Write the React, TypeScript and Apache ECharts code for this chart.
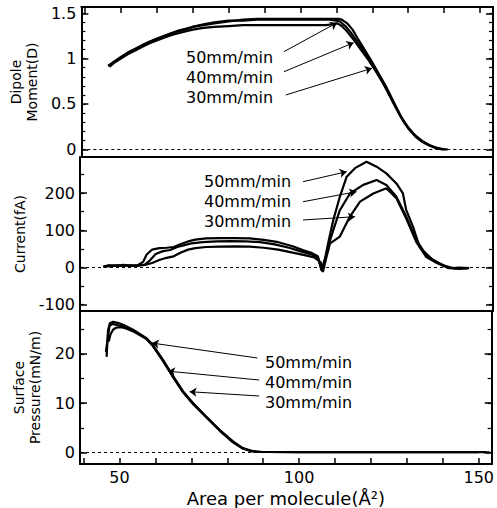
import React, { useEffect, useRef } from "react";
import * as echarts from "echarts";

// ---------- axis ticks / labels ----------
const xTickValues = [40, 50, 60, 70, 80, 90, 100, 110, 120, 130, 140, 150];
const xLabelValues = [50, 100, 150];

const dipoleMajor = [0, 0.5, 1, 1.5];
const dipoleMinor = [0, 0.1, 0.2, 0.3, 0.4, 0.5, 0.6, 0.7, 0.8, 0.9, 1, 1.1, 1.2, 1.3, 1.4, 1.5];
const currentMajor = [-100, 0, 100, 200];
const currentMinor = [-100, -50, 0, 50, 100, 150, 200, 250];
const pressureMajor = [0, 10, 20];
const pressureMinor = [0, 5, 10, 15, 20, 25];

const speeds = ["50mm/min", "40mm/min", "30mm/min"];

// ---------- data: dipole moment (D) ----------
const dipole50: [number, number][] = [
  [46.4, 0.92], [48, 0.96], [50, 1.01], [52, 1.06], [54, 1.1], [56, 1.14], [58, 1.18], [60, 1.22],
  [62, 1.25], [64, 1.28], [66, 1.3], [68, 1.32], [70, 1.35], [73, 1.37], [76, 1.39], [80, 1.41],
  [84, 1.43], [88, 1.44], [92, 1.44], [96, 1.44], [100, 1.44], [104, 1.44], [108, 1.44], [110.5, 1.44],
  [111.5, 1.43], [113, 1.39], [114.5, 1.32], [116, 1.22], [118, 1.09], [120, 0.96], [122, 0.82],
  [124, 0.68], [126, 0.52], [128, 0.36], [130, 0.24], [132, 0.15], [134, 0.09], [136, 0.045],
  [138, 0.015], [140, 0], [141, 0],
];
const dipole40: [number, number][] = [
  [46.6, 0.92], [48, 0.965], [50, 1.02], [52, 1.07], [54, 1.11], [56, 1.15], [58, 1.19], [60, 1.22],
  [62, 1.25], [64, 1.28], [66, 1.31], [68, 1.33], [70, 1.35], [73, 1.38], [76, 1.4], [80, 1.42],
  [84, 1.42], [88, 1.43], [92, 1.43], [96, 1.43], [100, 1.43], [104, 1.43], [108, 1.43], [110, 1.42],
  [111, 1.41], [112.5, 1.36], [114, 1.29], [116, 1.18], [118, 1.06], [120, 0.94], [122, 0.8],
  [124, 0.66], [126, 0.5], [128, 0.35], [130, 0.23], [132, 0.14], [134, 0.08], [136, 0.04],
  [138, 0.01], [139.5, 0],
];
const dipole30: [number, number][] = [
  [46.8, 0.91], [48, 0.95], [50, 1.0], [52, 1.05], [54, 1.09], [56, 1.13], [58, 1.17], [60, 1.2],
  [62, 1.23], [64, 1.26], [66, 1.28], [68, 1.3], [70, 1.32], [73, 1.34], [76, 1.35], [80, 1.36],
  [84, 1.37], [88, 1.37], [92, 1.37], [96, 1.37], [100, 1.37], [104, 1.37], [107, 1.37], [109, 1.38],
  [110.3, 1.39], [111.5, 1.36], [113, 1.3], [115, 1.2], [117, 1.09], [119, 0.98], [121, 0.86],
  [123, 0.73], [125, 0.58], [127, 0.43], [129, 0.29], [131, 0.19], [133, 0.11], [135, 0.06],
  [137, 0.025], [139, 0.005], [140, 0],
];

// ---------- data: current (fA) ----------
const current50: [number, number][] = [
  [45.4, 2], [47, 6], [49, 4], [51, 7], [53, 5], [55, 6], [56.5, 15], [57.5, 35], [59, 48], [61, 52],
  [63, 53], [65, 55], [67, 63], [69, 70], [71, 75], [74, 78], [78, 79], [82, 79], [86, 78], [90, 74],
  [94, 68], [98, 57], [101, 46], [103, 40], [105, 30], [106, -8], [107, 25], [108, 72], [109.3, 128],
  [111.1, 190], [113, 244], [115.3, 267], [118.5, 284], [121.3, 271], [124, 253], [126.8, 226],
  [128.6, 199], [129.5, 155], [131.4, 110], [133.2, 56], [136, 25], [138.8, 11], [141.5, -2],
  [144, 0], [147, -2],
];
const current40: [number, number][] = [
  [45.6, 3], [47, 5], [49, 6], [51, 4], [53, 6], [55, 5], [57, 8], [58.5, 20], [60, 36], [62, 44],
  [64, 47], [66, 55], [68, 60], [70, 65], [73, 68], [77, 70], [81, 71], [85, 70], [89, 68], [93, 62],
  [97, 53], [100, 44], [103, 36], [105, 27], [106.2, -10], [107.2, 30], [108.3, 70], [109.3, 101],
  [111.1, 154], [113.9, 199], [117.6, 222], [121.3, 235], [124, 222], [126.8, 190], [129.5, 137],
  [132.3, 74], [134.5, 42], [137, 20], [140, 5], [143, -3], [146.5, -3],
];
const current30: [number, number][] = [
  [45.8, 4], [47, 3], [49, 5], [51, 6], [53, 4], [55, 5], [57, 7], [59, 12], [61, 20], [63, 26],
  [65, 30], [67, 40], [69, 48], [71, 52], [74, 55], [78, 56], [82, 57], [86, 56], [90, 53], [94, 48],
  [98, 40], [101, 34], [104, 27], [105.8, 14], [106.4, -12], [107.4, 28], [108.4, 65], [111.1, 83],
  [113.9, 137], [116.7, 177], [120.4, 199], [124, 213], [126.8, 186], [129.5, 132], [132.3, 69],
  [135, 29], [138, 12], [141, -1], [145, -4],
];

// ---------- data: surface pressure (mN/m) ----------
const pressure50: [number, number][] = [
  [46.4, 19.4], [46.8, 24.8], [47.3, 26.2], [48.2, 26.5], [49.5, 26.3], [51, 25.9], [53.8, 24.9],
  [57.5, 23.2], [59.3, 21.8], [62.1, 18.8], [64.9, 15.4], [67.7, 12.3], [70.4, 10.0], [74.1, 7.3],
  [77.8, 4.6], [81.5, 2.2], [84.3, 0.85], [86.2, 0.4], [88, 0.15], [92, 0.1], [100, 0.05],
  [110, 0.05], [120, 0.05], [130, 0.05], [140, 0.05], [153, 0.05],
];
const pressure40: [number, number][] = [
  [46.2, 20.4], [46.7, 23], [47.2, 25.6], [48, 26.1], [49.5, 25.8], [51, 25.6], [53.8, 24.7],
  [57.5, 23.0], [59.3, 21.7], [62.1, 18.7], [64.9, 15.5], [67.7, 12.4], [70.4, 10.1], [74.1, 7.2],
  [77.8, 4.5], [81.5, 2.1], [84.3, 0.8], [86.5, 0.3], [89, 0.1], [100, 0.1], [120, 0.1],
  [140, 0.1], [152, 0.1],
];
const pressure30: [number, number][] = [
  [47, 22.5], [47.5, 24], [48.2, 24.9], [49, 25.3], [50.5, 25.4], [52, 25.1], [54, 24.5],
  [57.5, 23.1], [59.3, 21.6], [62.1, 18.6], [64.9, 15.3], [67.7, 12.2], [70.4, 9.9], [74.1, 7.2],
  [77.8, 4.6], [81.5, 2.3], [84.3, 0.9], [87, 0.3], [90, 0.1], [100, 0.05], [120, 0.05],
  [140, 0.05], [150, 0.05],
];

// ---------- annotation arrows (data coordinates: from label -> to curve) ----------
const dipoleArrows: [number, number][][] = [
  [[95.4, 1.077], [110.2, 1.397]],
  [[95.4, 0.856], [114.8, 1.176]],
  [[95.9, 0.599], [119.9, 0.894]],
];
const currentArrows: [number, number][][] = [
  [[100.9, 230.6], [113.0, 257.5]],
  [[100.9, 176.8], [115.7, 203.7]],
  [[100.9, 127.7], [115.3, 136.5]],
];
const pressureArrows: [number, number][][] = [
  [[88.4, 19.17], [59.0, 22.2]],
  [[88.9, 14.7], [63.5, 16.5]],
  [[88.9, 11.46], [69.5, 12.33]],
];

// ---------- layout ----------
const FONT = "DejaVu Sans";
const X_MIN = 39;
const X_MAX = 153.6;
const GRIDS = [
  { left: 80, top: 7, width: 413, height: 150 },
  { left: 80, top: 157, width: 413, height: 154 },
  { left: 80, top: 311, width: 413, height: 153 },
];
const RANGES = [
  [-0.085, 1.57],
  [-117, 297],
  [-2.33, 28.7],
];
const LABEL_POS = [
  [[186, 57], [186, 77], [186, 97]],
  [[204, 181], [204, 201], [204, 221]],
  [[265, 362], [265, 382], [265, 402]],
];

const BLACK = "#000";

function yAxesFor(
  gridIndex: number,
  majors: number[],
  minors: number[],
  name: string,
  nameGap: number
) {
  const [min, max] = RANGES[gridIndex];
  const base = {
    type: "value",
    gridIndex,
    min,
    max,
    splitLine: { show: false },
  };
  return [
    {
      ...base,
      position: "left",
      axisLine: { show: true, onZero: false, lineStyle: { color: BLACK, width: 2 } },
      axisTick: { show: true, inside: true, length: 7, customValues: majors, lineStyle: { color: BLACK, width: 1.5 } },
      axisLabel: { show: true, customValues: majors, color: BLACK, fontSize: 16, fontFamily: FONT, margin: 5 },
      name,
      nameLocation: "middle",
      nameGap,
      nameTextStyle: { color: BLACK, fontSize: 14, fontFamily: FONT, lineHeight: 16 },
    },
    {
      ...base,
      position: "left",
      axisLine: { show: false, onZero: false },
      axisTick: { show: true, inside: true, length: 4, customValues: minors, lineStyle: { color: BLACK, width: 1.2 } },
      axisLabel: { show: false },
    },
    {
      ...base,
      position: "right",
      axisLine: { show: true, onZero: false, lineStyle: { color: BLACK, width: 2 } },
      axisTick: { show: true, inside: true, length: 7, customValues: majors, lineStyle: { color: BLACK, width: 1.5 } },
      axisLabel: { show: false },
    },
    {
      ...base,
      position: "right",
      axisLine: { show: false, onZero: false },
      axisTick: { show: true, inside: true, length: 4, customValues: minors, lineStyle: { color: BLACK, width: 1.2 } },
      axisLabel: { show: false },
    },
  ];
}

function xAxis(gridIndex: number, position: string, ticks: boolean, labels: boolean, extra: any = {}) {
  return {
    type: "value",
    gridIndex,
    min: X_MIN,
    max: X_MAX,
    position,
    splitLine: { show: false },
    axisLine: { show: true, onZero: false, lineStyle: { color: BLACK, width: 2 } },
    axisTick: ticks
      ? { show: true, inside: true, length: 6, customValues: xTickValues, lineStyle: { color: BLACK, width: 1.5 } }
      : { show: false },
    axisLabel: labels
      ? { show: true, customValues: xLabelValues, color: BLACK, fontSize: 16, fontFamily: FONT, margin: 5 }
      : { show: false },
    ...extra,
  };
}

function curve(data: [number, number][], xAxisIndex: number, yAxisIndex: number, extra: any = {}) {
  return {
    type: "line",
    xAxisIndex,
    yAxisIndex,
    data,
    showSymbol: false,
    symbol: "none",
    silent: true,
    lineStyle: { color: BLACK, width: 2.2 },
    ...extra,
  };
}

function arrowMarks(arrows: [number, number][][]) {
  return {
    silent: true,
    symbol: ["none", "arrow"],
    symbolSize: 7,
    label: { show: false },
    lineStyle: { color: BLACK, width: 1, type: "solid" },
    itemStyle: { color: BLACK },
    data: arrows.map(([a, b]) => [{ coord: a }, { coord: b }]),
  };
}

const zeroMark = {
  silent: true,
  symbol: ["none", "none"],
  label: { show: false },
  lineStyle: { color: BLACK, width: 1, type: [3, 3] },
  data: [{ yAxis: 0 }],
};

export default function App() {
  const ref = useRef<HTMLDivElement>(null);

  useEffect(() => {
    if (!ref.current) return;
    const chart = echarts.init(ref.current, null, { renderer: "svg" });

    const graphic = LABEL_POS.flatMap((panel) =>
      panel.map(([x, y], i) => ({
        type: "text",
        x,
        y,
        silent: true,
        style: {
          text: speeds[i],
          fill: BLACK,
          fontSize: 16,
          fontFamily: FONT,
          textAlign: "left",
          textVerticalAlign: "middle",
        },
      }))
    );

    const option: any = {
      animation: false,
      backgroundColor: "#fff",
      grid: GRIDS.map((g) => ({ ...g, containLabel: false })),
      xAxis: [
        xAxis(0, "bottom", false, false),
        xAxis(0, "top", true, false),
        xAxis(1, "bottom", false, false),
        xAxis(2, "bottom", true, true, {
          name: "Area per molecule(Å²)",
          nameLocation: "middle",
          nameGap: 25,
          nameTextStyle: { color: BLACK, fontSize: 18, fontFamily: FONT },
        }),
      ],
      yAxis: [
        ...yAxesFor(0, dipoleMajor, dipoleMinor, "Dipole\nMoment(D)", 38),
        ...yAxesFor(1, currentMajor, currentMinor, "Current(fA)", 47),
        ...yAxesFor(2, pressureMajor, pressureMinor, "Surface\nPressure(mN/m)", 37),
      ],
      series: [
        curve(dipole50, 0, 0, { markLine: arrowMarks(dipoleArrows) }),
        curve(dipole40, 0, 0),
        curve(dipole30, 0, 0, { markLine: zeroMark }),
        curve(current50, 2, 4, { markLine: arrowMarks(currentArrows) }),
        curve(current40, 2, 4),
        curve(current30, 2, 4, { markLine: zeroMark }),
        curve(pressure50, 3, 8, { markLine: arrowMarks(pressureArrows) }),
        curve(pressure40, 3, 8),
        curve(pressure30, 3, 8, { markLine: zeroMark }),
      ],
      graphic,
    };

    chart.setOption(option);
    return () => chart.dispose();
  }, []);

  return (
    <div
      ref={ref}
      style={{ position: "fixed", left: 0, top: 0, width: 497, height: 508, background: "#fff" }}
    />
  );
}
